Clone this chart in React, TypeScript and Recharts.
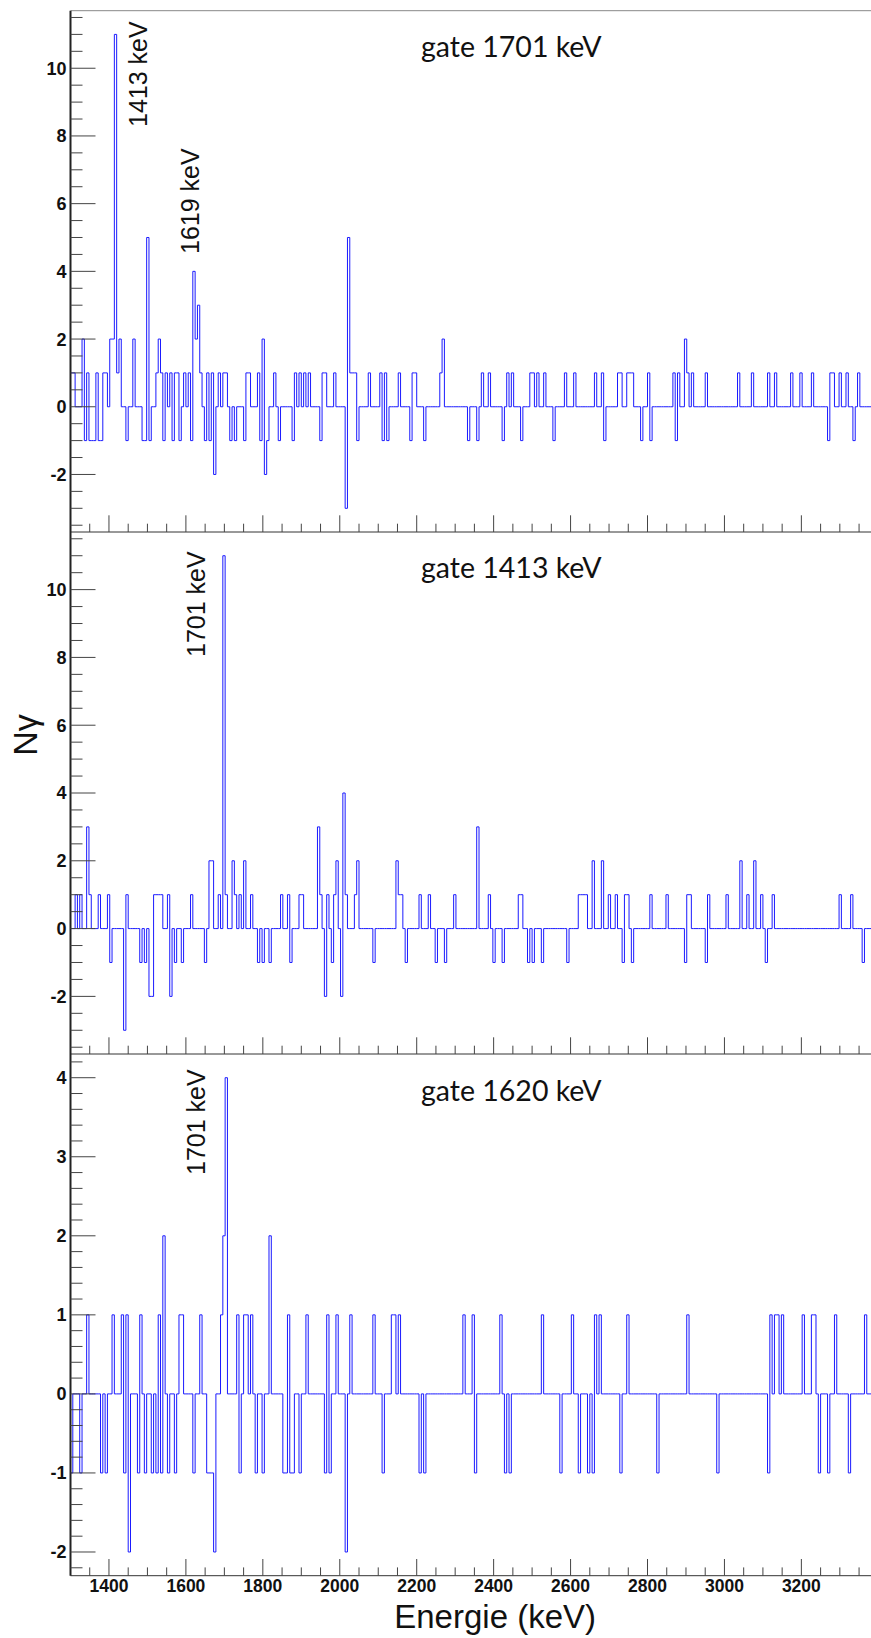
import { LineChart, Line, XAxis, YAxis, ReferenceLine } from "recharts";

// histogram binning (keV)
const E_MIN = 1300;
const E_MAX = 3381;
const BIN_WIDTH = 6;
const N_BINS = 347;

// [bin low edge (keV), counts] -- only non-empty bins, everything else is 0
const GATE_1701: [number, number][] = [
  [1300, 1], [1306, 1], [1330, 2], [1336, -1], [1342, 1], [1348, -1], [1354, -1], [1360, -1],
  [1366, 1], [1372, -1], [1378, -1], [1384, 1], [1390, 1], [1402, 2], [1408, 2], [1414, 11],
  [1420, 1], [1426, 2], [1444, -1], [1462, 2], [1486, -1], [1492, -1], [1498, 5], [1504, -1],
  [1522, 1], [1528, 2], [1534, 1], [1540, -1], [1546, 1], [1558, 1], [1564, -1], [1570, 1],
  [1576, 1], [1582, -1], [1594, 1], [1606, 1], [1612, -1], [1618, 4], [1624, 2], [1630, 3],
  [1636, 1], [1648, -1], [1654, 1], [1660, -1], [1666, 1], [1672, -2], [1684, 1], [1696, 1],
  [1702, 1], [1714, -1], [1726, -1], [1750, -1], [1756, 1], [1762, 1], [1786, 1], [1792, -1],
  [1798, 2], [1804, -2], [1810, -1], [1828, 1], [1840, -1], [1876, -1], [1882, 1], [1894, 1],
  [1906, 1], [1918, 1], [1948, -1], [1954, 1], [1960, 1], [1984, 1], [2014, -3], [2020, 5],
  [2026, 1], [2032, 1], [2038, 1], [2044, -1], [2074, 1], [2104, 1], [2110, -1], [2116, 1],
  [2122, -1], [2152, 1], [2182, -1], [2188, 1], [2194, 1], [2218, -1], [2260, 1], [2266, 2],
  [2332, -1], [2356, -1], [2368, 1], [2386, 1], [2422, -1], [2434, 1], [2446, 1], [2470, -1],
  [2494, 1], [2500, 1], [2512, 1], [2530, 1], [2554, -1], [2584, 1], [2608, 1], [2662, 1],
  [2680, 1], [2686, -1], [2722, 1], [2728, 1], [2746, 1], [2752, 1], [2758, 1], [2782, -1],
  [2800, 1], [2806, -1], [2866, 1], [2872, -1], [2878, 1], [2896, 2], [2902, 1], [2914, 1],
  [2950, 1], [3034, 1], [3070, 1], [3112, 1], [3130, 1], [3172, 1], [3196, 1], [3226, 1],
  [3268, -1], [3274, 1], [3280, 1], [3298, 1], [3316, 1], [3334, -1], [3346, 1],
];

const GATE_1413: [number, number][] = [
  [1312, 1], [1324, 1], [1342, 3], [1348, 1], [1372, 1], [1396, 1], [1402, -1], [1438, -3],
  [1444, 1], [1480, -1], [1492, -1], [1504, -2], [1510, -2], [1516, 1], [1522, 1], [1528, 1],
  [1534, 1], [1552, 1], [1558, -2], [1570, -1], [1588, -1], [1612, 1], [1648, -1], [1660, 2],
  [1666, 2], [1684, 1], [1696, 11], [1702, 1], [1720, 2], [1726, 1], [1738, 1], [1750, 2],
  [1768, 1], [1786, -1], [1798, -1], [1816, -1], [1846, 1], [1864, 1], [1870, -1], [1894, 1],
  [1900, 1], [1942, 3], [1948, 1], [1960, -2], [1966, 1], [1978, -1], [1984, 1], [1990, 2],
  [2002, -2], [2008, 4], [2014, 1], [2038, 1], [2044, 2], [2086, -1], [2146, 2], [2152, 1],
  [2158, 1], [2170, -1], [2206, 1], [2230, 1], [2248, -1], [2272, -1], [2296, 1], [2356, 3],
  [2386, 1], [2398, -1], [2422, -1], [2464, 1], [2470, 1], [2488, -1], [2500, -1], [2524, -1],
  [2590, -1], [2620, 1], [2626, 1], [2632, 1], [2638, 1], [2656, 2], [2680, 2], [2698, 1],
  [2716, 1], [2734, -1], [2740, 1], [2746, 1], [2758, -1], [2806, 1], [2848, 1], [2896, -1],
  [2902, 1], [2908, 1], [2950, -1], [2956, 1], [3004, 1], [3040, 2], [3058, 1], [3076, 2],
  [3094, 1], [3106, -1], [3124, 1], [3298, 1], [3328, 1], [3358, -1],
];

const GATE_1620: [number, number][] = [
  [1300, -1], [1324, -1], [1342, 1], [1378, -1], [1390, -1], [1408, 1], [1432, 1], [1438, -1],
  [1444, 1], [1450, -2], [1474, -1], [1480, 1], [1492, -1], [1510, -1], [1522, -1], [1528, 1],
  [1534, -1], [1540, 2], [1552, -1], [1570, -1], [1582, 1], [1588, 1], [1618, -1], [1636, 1],
  [1654, -1], [1660, -1], [1666, -1], [1672, -2], [1690, 1], [1696, 2], [1702, 4], [1732, 1],
  [1738, -1], [1750, 1], [1756, 1], [1768, 1], [1780, -1], [1798, -1], [1816, 2], [1852, -1],
  [1858, -1], [1864, 1], [1870, -1], [1876, -1], [1894, -1], [1912, 1], [1960, -1], [1966, 1],
  [1972, -1], [1990, 1], [2014, -2], [2026, 1], [2086, 1], [2110, -1], [2134, 1], [2140, 1],
  [2152, 1], [2206, -1], [2218, -1], [2320, 1], [2344, 1], [2350, -1], [2416, 1], [2428, -1],
  [2440, -1], [2524, 1], [2572, -1], [2602, 1], [2620, -1], [2644, -1], [2656, -1], [2662, 1],
  [2674, 1], [2728, -1], [2746, 1], [2824, -1], [2902, 1], [2980, -1], [3112, -1], [3118, 1],
  [3130, 1], [3136, 1], [3148, 1], [3202, 1], [3226, 1], [3232, 1], [3244, -1], [3268, -1],
  [3286, 1], [3322, -1], [3364, 1],
];

const AXIS_X = 70.5;
const FONT = "'Liberation Sans', Arial, Helvetica, sans-serif";
const BLUE = "#1a1aff";

const seq = (from: number, to: number, step: number) => {
  const out: number[] = [];
  for (let v = from; v <= to + 1e-9; v += step) out.push(Math.round(v * 100) / 100);
  return out;
};

function buildSteps(bins: [number, number][]) {
  const counts = new Map(bins.map(([e, n]) => [e, n]));
  const pts: { e: number; n: number }[] = [];
  for (let k = 0; k <= N_BINS; k++) {
    const e = E_MIN + k * BIN_WIDTH;
    pts.push({ e, n: counts.get(e) ?? 0 });
  }
  return pts;
}

const isMultiple = (v: number, step: number) =>
  Math.abs(v / step - Math.round(v / step)) < 1e-6;

function YTick(props: any) {
  const { x, y, payload, major } = props;
  const v = payload.value as number;
  const big = isMultiple(v, major);
  return (
    <g>
      <line x1={x} x2={x + (big ? 25 : 12)} y1={y} y2={y} stroke="#444" strokeWidth={1} />
      {big && (
        <text x={x - 4} y={y} dy="0.36em" textAnchor="end" fontFamily={FONT}
          fontWeight="bold" fontSize={18} fill="#111">
          {v}
        </text>
      )}
    </g>
  );
}

function XTick(props: any) {
  const { x, y, payload, showLabel } = props;
  const v = payload.value as number;
  const big = isMultiple(v, 200);
  return (
    <g>
      <line x1={x} x2={x} y1={y} y2={y - (big ? 16.7 : 8.3)} stroke="#444" strokeWidth={1} />
      {showLabel && big && (
        <text x={x} y={y + 16.5} textAnchor="middle" fontFamily={FONT}
          fontWeight="bold" fontSize={17.5} fill="#111">
          {v}
        </text>
      )}
    </g>
  );
}

const PANELS = [
  { bins: GATE_1701, top: 0, height: 542, marginTop: 10.7, xAxisH: 10, domain: [-3.7, 11.7], yTicks: seq(-3.5, 11.5, 0.5), major: 2, labels: false, frame: true },
  { bins: GATE_1413, top: 532, height: 532, marginTop: 0, xAxisH: 10, domain: [-3.7, 11.7], yTicks: seq(-3.5, 11.5, 0.5), major: 2, labels: false, frame: false },
  { bins: GATE_1620, top: 1054, height: 584, marginTop: 0, xAxisH: 62.3, domain: [-2.3, 4.3], yTicks: seq(-2.2, 4.2, 0.2), major: 1, labels: true, frame: false },
];

const X_TICKS = seq(1350, 3350, 50);

function Panel({ p }: { p: (typeof PANELS)[number] }) {
  const data = buildSteps(p.bins);
  return (
    <div style={{ position: "absolute", left: 0, top: p.top }}>
      <LineChart width={871} height={p.height} data={data}
        margin={{ top: p.marginTop, right: 0, bottom: 0, left: 0 }}>
        <XAxis type="number" dataKey="e" domain={[E_MIN, E_MAX]} allowDataOverflow
          ticks={X_TICKS} interval={0} height={p.xAxisH} tickSize={0} tickMargin={0}
          tickLine={false} axisLine={{ stroke: "#333", strokeWidth: 1 }}
          tick={(t: any) => <XTick {...t} showLabel={p.labels} />} />
        <YAxis type="number" domain={p.domain} allowDataOverflow width={AXIS_X}
          ticks={p.yTicks} interval={0} tickSize={0} tickMargin={0} tickLine={false}
          axisLine={{ stroke: "#222", strokeWidth: 2 }}
          tick={(t: any) => <YTick {...t} major={p.major} />} />
        {p.frame && <ReferenceLine y={p.domain[1]} stroke="#888" strokeWidth={1} />}
        <Line type="stepAfter" dataKey="n" stroke={BLUE} strokeWidth={1}
          dot={false} activeDot={false} isAnimationActive={false} />
      </LineChart>
    </div>
  );
}

const GATE_LABELS = [
  { text: "gate 1701 keV", y: 56.5 },
  { text: "gate 1413 keV", y: 578 },
  { text: "gate 1620 keV", y: 1101 },
];

const PEAK_LABELS = [
  { text: "1413 keV", x: 147, y: 127 },
  { text: "1619 keV", x: 199, y: 254 },
  { text: "1701 keV", x: 205, y: 657 },
  { text: "1701 keV", x: 205, y: 1175 },
];

export default function App() {
  return (
    <div style={{ position: "absolute", left: 0, top: 0, width: 871, height: 1638, background: "#fff", overflow: "hidden" }}>
      {PANELS.map((p, i) => (
        <Panel key={i} p={p} />
      ))}
      <svg width={871} height={1638} style={{ position: "absolute", left: 0, top: 0, pointerEvents: "none" }}>
        {GATE_LABELS.map((g) => (
          <text key={g.text} x={421} y={g.y} fontFamily="Lato, 'Open Sans', sans-serif" fontSize={28.5} fill="#111">
            {g.text}
          </text>
        ))}
        {PEAK_LABELS.map((l, i) => (
          <text key={i} transform={`translate(${l.x},${l.y}) rotate(-90)`} fontFamily={FONT} fontSize={25} fill="#111">
            {l.text}
          </text>
        ))}
        <text transform="translate(37,735) rotate(-90)" textAnchor="middle" fontFamily={FONT} fontSize={34} fill="#111">
          Nγ
        </text>
        <text x={596} y={1628} textAnchor="end" fontFamily={FONT} fontSize={33} fill="#111">
          Energie (keV)
        </text>
      </svg>
    </div>
  );
}
